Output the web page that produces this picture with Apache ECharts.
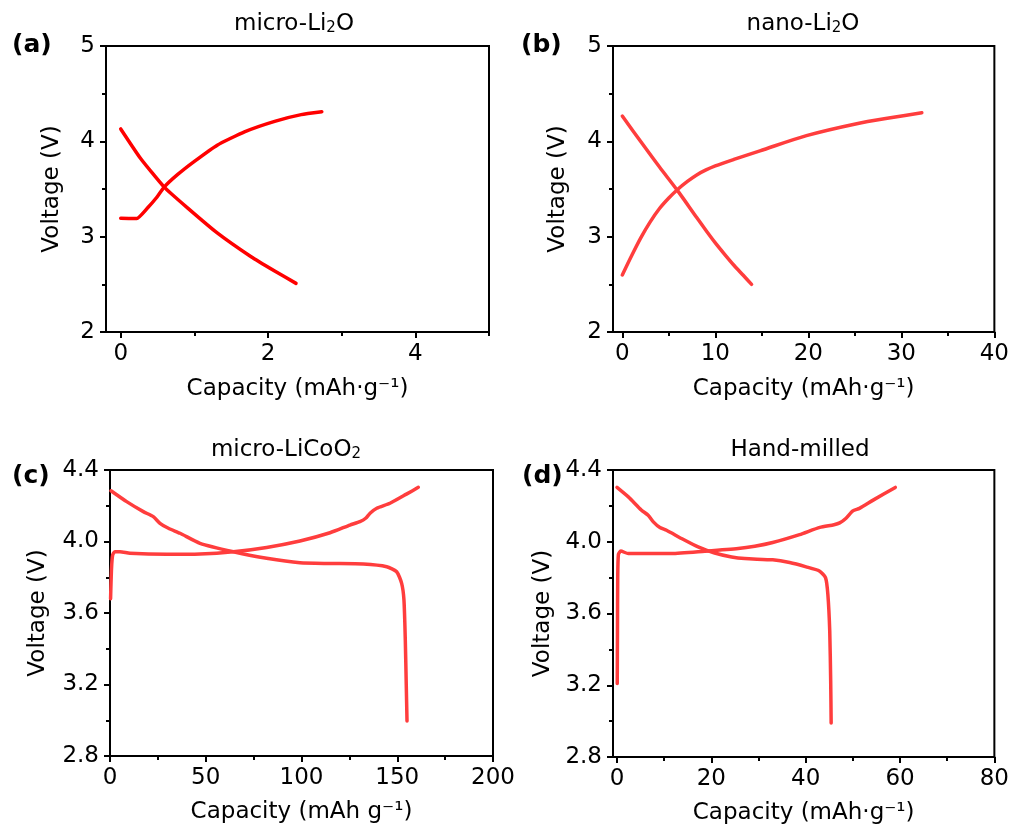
<!DOCTYPE html>
<html>
<head>
<meta charset="utf-8">
<title>Charge / discharge profiles</title>
<script src="https://cdn.jsdelivr.net/npm/echarts@6/dist/echarts.min.js"></script>
<style>
  html, body { margin: 0; padding: 0; background: #fff; }
  #chart { width: 1012px; height: 829px; }
</style>
</head>
<body>
<div id="chart"></div>
<script>
// ---- data: [capacity, voltage] pairs per curve ----
const microLi2OCharge = [[0, 3.193], [0.218, 3.19], [0.363, 3.30], [0.476, 3.40], [0.59, 3.52], [0.77, 3.65], [1.0, 3.79], [1.31, 3.96], [1.68, 4.10], [2.09, 4.21], [2.45, 4.28], [2.73, 4.31]];
const microLi2ODischarge = [[0, 4.13], [0.27, 3.82], [0.59, 3.52], [0.91, 3.30], [1.31, 3.04], [1.77, 2.79], [2.09, 2.64], [2.38, 2.51]];

const nanoLi2OCharge = [[0, 2.598], [1, 2.80], [2, 2.99], [3, 3.155], [4, 3.295], [5, 3.405], [6, 3.50], [7, 3.58], [8, 3.648], [9, 3.70], [10, 3.742], [12, 3.81], [14.8, 3.90], [19.8, 4.06], [25.2, 4.185], [29, 4.25], [32.2, 4.30]];
const nanoLi2ODischarge = [[0, 4.265], [2, 3.995], [4, 3.73], [6, 3.475], [8, 3.20], [9, 3.065], [10, 2.935], [11, 2.815], [12, 2.70], [13, 2.595], [13.9, 2.50]];

const licooCharge = [[0.3, 3.68], [0.8, 3.85], [1.4, 3.925], [2.6, 3.943], [5.2, 3.943], [10.4, 3.934], [29.6, 3.928], [47, 3.93], [64.4, 3.943], [81.8, 3.967], [99.2, 4.003], [114.9, 4.049], [125.3, 4.092], [130.5, 4.111], [133.5, 4.13], [135.8, 4.158], [139.3, 4.186], [146.2, 4.214], [154.8, 4.265], [161, 4.303]];
const licooDischarge = [[0.5, 4.284], [8.7, 4.223], [17.4, 4.167], [22.6, 4.139], [26.1, 4.102], [30.5, 4.074], [36.6, 4.046], [47, 3.99], [64.4, 3.943], [81.8, 3.906], [99.2, 3.881], [114.9, 3.877], [132.3, 3.874], [144.5, 3.859], [149.7, 3.831], [152.3, 3.766], [153.5, 3.673], [154.2, 3.45], [154.7, 3.2], [155.1, 2.996]];

const handMilledCharge = [[0.05, 3.21], [0.1, 3.5], [0.15, 3.8], [0.3, 3.93], [0.8, 3.948], [2.4, 3.934], [11.6, 3.934], [18.6, 3.947], [25.7, 3.962], [29.2, 3.975], [33, 3.996], [38.7, 4.04], [43, 4.08], [46, 4.095], [47.2, 4.105], [48.5, 4.13], [50, 4.172], [51.4, 4.186], [54.3, 4.232], [59, 4.303]];
const handMilledDischarge = [[0, 4.303], [2.4, 4.25], [5.2, 4.176], [6.6, 4.148], [7.7, 4.111], [9.1, 4.079], [10.5, 4.064], [13.7, 4.018], [17.2, 3.971], [20.7, 3.937], [24.3, 3.915], [27.1, 3.906], [33, 3.899], [36.6, 3.884], [40.1, 3.86], [42.9, 3.837], [44.2, 3.80], [44.7, 3.707], [45.1, 3.502], [45.3, 3.223], [45.4, 2.99]];

// ---- axis ticks ----
const xTicksA = [0, 2, 4];         const xMinorA = [1, 3, 5];
const xTicksB = [0, 10, 20, 30, 40]; const xMinorB = [5, 15, 25, 35];
const xTicksC = [0, 50, 100, 150, 200]; const xMinorC = [25, 75, 125, 175];
const xTicksD = [0, 20, 40, 60, 80];  const xMinorD = [10, 30, 50, 70];
const yTicksTop = [2, 3, 4, 5];     const yMinorTop = [2.5, 3.5, 4.5];
const yTicksBottom = [2.8, 3.2, 3.6, 4.0, 4.4]; const yMinorBottom = [3.0, 3.4, 3.8, 4.2];

// ---- text ----
const panelTitles = ['{n|micro-Li}{s|2}{n|O}', '{n|nano-Li}{s|2}{n|O}', '{n|micro-LiCoO}{s|2}', '{n|Hand-milled}'];
const panelTags = ['(a)', '(b)', '(c)', '(d)'];
const xNames = ['Capacity (mAh·g⁻¹)', 'Capacity (mAh·g⁻¹)', 'Capacity (mAh g⁻¹)', 'Capacity (mAh·g⁻¹)'];
const yName = 'Voltage (V)';

const FONT = 'DejaVu Sans';

const panels = [
  { grid: { left: 106, top: 46, width: 383, height: 286 }, xMin: -0.2, xMax: 5, xTicks: xTicksA, xMinor: xMinorA,
    yMin: 2, yMax: 5, yTicks: yTicksTop, yMinor: yMinorTop, yFmt: v => String(v),
    curves: [microLi2OCharge, microLi2ODischarge], color: '#ff0000', smooth: 0.15,
    xGap: 46, yGap: 42, titlePos: [294, 24], tagPos: [12, 45] },
  { grid: { left: 613, top: 46, width: 382, height: 286 }, xMin: -1, xMax: 40, xTicks: xTicksB, xMinor: xMinorB,
    yMin: 2, yMax: 5, yTicks: yTicksTop, yMinor: yMinorTop, yFmt: v => String(v),
    curves: [nanoLi2OCharge, nanoLi2ODischarge], color: '#ff3d3d', smooth: 0.3,
    xGap: 46, yGap: 43, titlePos: [803, 24], tagPos: [521, 45] },
  { grid: { left: 110, top: 470, width: 383, height: 286 }, xMin: 0, xMax: 200, xTicks: xTicksC, xMinor: xMinorC,
    yMin: 2.8, yMax: 4.4, yTicks: yTicksBottom, yMinor: yMinorBottom, yFmt: v => v.toFixed(1),
    curves: [licooCharge, licooDischarge], color: '#ff3d3d', smooth: 0.2,
    xGap: 45, yGap: 60, titlePos: [286, 450], tagPos: [12, 476] },
  { grid: { left: 613, top: 470, width: 382, height: 287 }, xMin: -0.85, xMax: 80, xTicks: xTicksD, xMinor: xMinorD,
    yMin: 2.8, yMax: 4.4, yTicks: yTicksBottom, yMinor: yMinorBottom, yFmt: v => v.toFixed(1),
    curves: [handMilledCharge, handMilledDischarge], color: '#ff3d3d', smooth: 0.2,
    xGap: 45, yGap: 58, titlePos: [800, 450], tagPos: [522, 476] }
];

const grids = [], xAxes = [], yAxes = [], series = [], graphics = [];
const axisColor = '#000';

panels.forEach((p, i) => {
  grids.push(Object.assign({ show: true, borderColor: axisColor, borderWidth: 2, backgroundColor: 'transparent' }, p.grid));

  // main x axis: line, major ticks, labels, name
  xAxes.push({
    type: 'value', gridIndex: i, position: 'bottom', min: p.xMin, max: p.xMax,
    axisLine: { show: true, onZero: false, lineStyle: { color: axisColor, width: 2 } },
    axisTick: { show: true, inside: false, length: 6, lineStyle: { color: axisColor, width: 2 }, customValues: p.xTicks },
    axisLabel: { customValues: p.xTicks, margin: 11, fontSize: 23, color: '#000', fontFamily: FONT },
    splitLine: { show: false },
    name: xNames[i], nameLocation: 'middle', nameGap: p.xGap,
    nameTextStyle: { fontSize: 23, color: '#000', fontFamily: FONT }
  });
  // minor x ticks
  xAxes.push({
    type: 'value', gridIndex: i, position: 'bottom', min: p.xMin, max: p.xMax,
    axisLine: { show: false, onZero: false },
    axisTick: { show: true, inside: false, length: 4, lineStyle: { color: axisColor, width: 2 }, customValues: p.xMinor },
    axisLabel: { show: false }, splitLine: { show: false }
  });

  yAxes.push({
    type: 'value', gridIndex: i, position: 'left', min: p.yMin, max: p.yMax,
    axisLine: { show: true, onZero: false, lineStyle: { color: axisColor, width: 2 } },
    axisTick: { show: true, inside: false, length: 6, lineStyle: { color: axisColor, width: 2 }, customValues: p.yTicks },
    axisLabel: { customValues: p.yTicks, margin: 11, fontSize: 23, color: '#000', fontFamily: FONT, formatter: p.yFmt },
    splitLine: { show: false },
    name: yName, nameLocation: 'middle', nameGap: p.yGap, nameRotate: 90,
    nameTextStyle: { fontSize: 23, color: '#000', fontFamily: FONT }
  });
  // minor y ticks
  yAxes.push({
    type: 'value', gridIndex: i, position: 'left', min: p.yMin, max: p.yMax,
    axisLine: { show: false, onZero: false },
    axisTick: { show: true, inside: false, length: 4, lineStyle: { color: axisColor, width: 2 }, customValues: p.yMinor },
    axisLabel: { show: false }, splitLine: { show: false }
  });

  p.curves.forEach(c => {
    series.push({
      type: 'line', xAxisIndex: 2 * i, yAxisIndex: 2 * i, data: c,
      showSymbol: false, smooth: p.smooth, silent: true,
      lineStyle: { color: p.color, width: 3.5, cap: 'round', join: 'round' }
    });
  });

  graphics.push({
    type: 'text', x: p.titlePos[0], y: p.titlePos[1], silent: true,
    style: {
      text: panelTitles[i], align: 'center', verticalAlign: 'middle', fill: '#000',
      rich: {
        n: { fontSize: 23, fontFamily: FONT, fill: '#000' },
        s: { fontSize: 15, fontFamily: FONT, fill: '#000', verticalAlign: 'bottom' }
      }
    }
  });
  graphics.push({
    type: 'text', x: p.tagPos[0], y: p.tagPos[1], silent: true,
    style: { text: panelTags[i], align: 'left', verticalAlign: 'middle', fill: '#000',
      fontSize: 25, fontWeight: 'bold', fontFamily: FONT }
  });
});

const chart = echarts.init(document.getElementById('chart'), null, { renderer: 'canvas' });
chart.setOption({
  animation: false,
  backgroundColor: '#fff',
  grid: grids,
  xAxis: xAxes,
  yAxis: yAxes,
  series: series,
  graphic: graphics
});
</script>
</body>
</html>
